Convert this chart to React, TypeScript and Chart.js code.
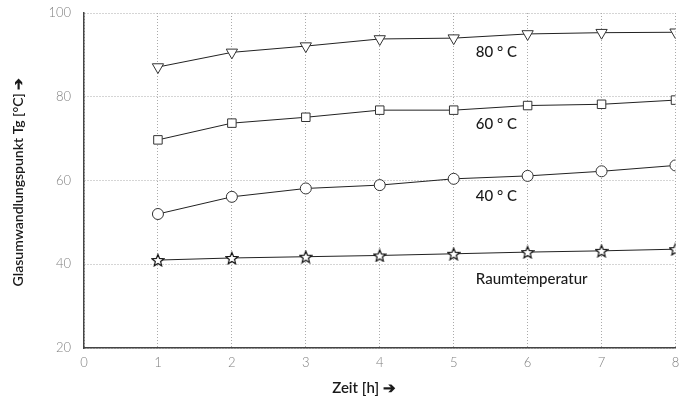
import React, { useEffect, useRef } from "react";
import { Chart, registerables } from "chart.js";

Chart.register(...registerables);

const hours = [1, 2, 3, 4, 5, 6, 7, 8];
const tg80 = [87.1, 90.6, 92.1, 93.8, 94.0, 95.0, 95.3, 95.4];
const tg60 = [69.7, 73.7, 75.1, 76.8, 76.8, 77.9, 78.2, 79.2];
const tg40 = [52.0, 56.1, 58.1, 58.9, 60.4, 61.1, 62.2, 63.6];
const tgRaum = [41.0, 41.5, 41.8, 42.1, 42.5, 42.9, 43.2, 43.6];

const seriesLabels = ["80 ° C", "60 ° C", "40 ° C", "Raumtemperatur"];
const labelAnchorX = 5.3;
const labelAnchorY = [90.7, 73.5, 56.3, 36.5];

const xTitle = "Zeit [h] ➔";
const yTitle = "Glasumwandlungspunkt Tg [°C] ➔";

function makeStar(): HTMLCanvasElement {
  const c = document.createElement("canvas");
  const s = 14;
  c.width = s;
  c.height = s;
  const ctx = c.getContext("2d")!;
  const cx = s / 2, cy = s / 2 + 0.7;
  const R = 6.3, r = 2.8;
  ctx.beginPath();
  for (let i = 0; i < 10; i++) {
    const rad = i % 2 === 0 ? R : r;
    const a = -Math.PI / 2 + (i * Math.PI) / 5;
    const px = cx + rad * Math.cos(a);
    const py = cy + rad * Math.sin(a);
    if (i === 0) ctx.moveTo(px, py);
    else ctx.lineTo(px, py);
  }
  ctx.closePath();
  ctx.fillStyle = "#fff";
  ctx.fill();
  ctx.strokeStyle = "#111";
  ctx.lineWidth = 1.2;
  ctx.stroke();
  return c;
}

export default function App() {
  const ref = useRef<HTMLCanvasElement | null>(null);

  useEffect(() => {
    document.body.style.margin = "0";
    const star = makeStar();
    const toPts = (arr: number[]) => hours.map((h, i) => ({ x: h, y: arr[i] }));
    const common = {
      borderColor: "#222",
      borderWidth: 1,
      pointBackgroundColor: "#fff",
      pointBorderColor: "#333",
      pointBorderWidth: 1,
      pointRadius: 6,
      tension: 0,
    };

    const textPlugin = {
      id: "texts",
      afterDraw(chart: any) {
        const ctx = chart.ctx;
        const xs = chart.scales.x;
        const ys = chart.scales.y;
        ctx.save();
        ctx.fillStyle = "#1a1a1a";
        ctx.font = "500 15px Lato, 'Open Sans', sans-serif";
        ctx.textAlign = "left";
        ctx.textBaseline = "middle";
        seriesLabels.forEach((t, i) => {
          ctx.fillText(t, xs.getPixelForValue(labelAnchorX), ys.getPixelForValue(labelAnchorY[i]));
        });
        ctx.font = "600 15px Lato, 'Open Sans', sans-serif";
        ctx.textAlign = "center";
        ctx.fillText(xTitle, 364, 388);
        ctx.translate(18, 182);
        ctx.rotate(-Math.PI / 2);
        ctx.font = "600 14px Lato, 'Open Sans', sans-serif";
        ctx.fillText(yTitle, 0, 0, 226);
        ctx.restore();
      },
    };

    const chart = new Chart(ref.current!, {
      type: "line",
      data: {
        datasets: [
          { ...common, data: toPts(tg80), pointStyle: "triangle", pointRotation: 180, pointRadius: 6.5 },
          { ...common, data: toPts(tg60), pointStyle: "rect", pointRadius: 6 },
          { ...common, data: toPts(tg40), pointStyle: "circle", pointRadius: 5.5 },
          { ...common, data: toPts(tgRaum), pointStyle: star as any },
        ],
      },
      options: {
        animation: false,
        responsive: false,
        layout: { padding: { left: 0, right: 5, top: 13, bottom: 0 } },
        plugins: { legend: { display: false }, tooltip: { enabled: false } },
        scales: {
          x: {
            type: "linear",
            min: 0,
            max: 8,
            ticks: { stepSize: 1, color: "#808080", font: { family: "Lato, sans-serif", size: 13, weight: "300" }, padding: 7 },
            grid: { color: "#aaa", drawTicks: false, lineWidth: 1 },
            border: { color: "#444", width: 1.5, dash: [1, 2] },
            afterFit: (s: any) => { s.height = 52; s.paddingRight = 0; s.paddingLeft = 0; },
          },
          y: {
            min: 20,
            max: 100,
            ticks: { stepSize: 20, color: "#808080", font: { family: "Lato, sans-serif", size: 13, weight: "300" }, padding: 13 },
            grid: { color: "#aaa", drawTicks: false, lineWidth: 1 },
            border: { color: "#444", width: 1.5, dash: [1, 2] },
            afterFit: (s: any) => { s.width = 84; s.paddingTop = 0; s.paddingBottom = 0; },
          },
        },
      },
      plugins: [textPlugin],
    });
    return () => chart.destroy();
  }, []);

  return (
    <div style={{ width: 683, height: 400 }}>
      <canvas ref={ref} width={683} height={400} />
    </div>
  );
}
